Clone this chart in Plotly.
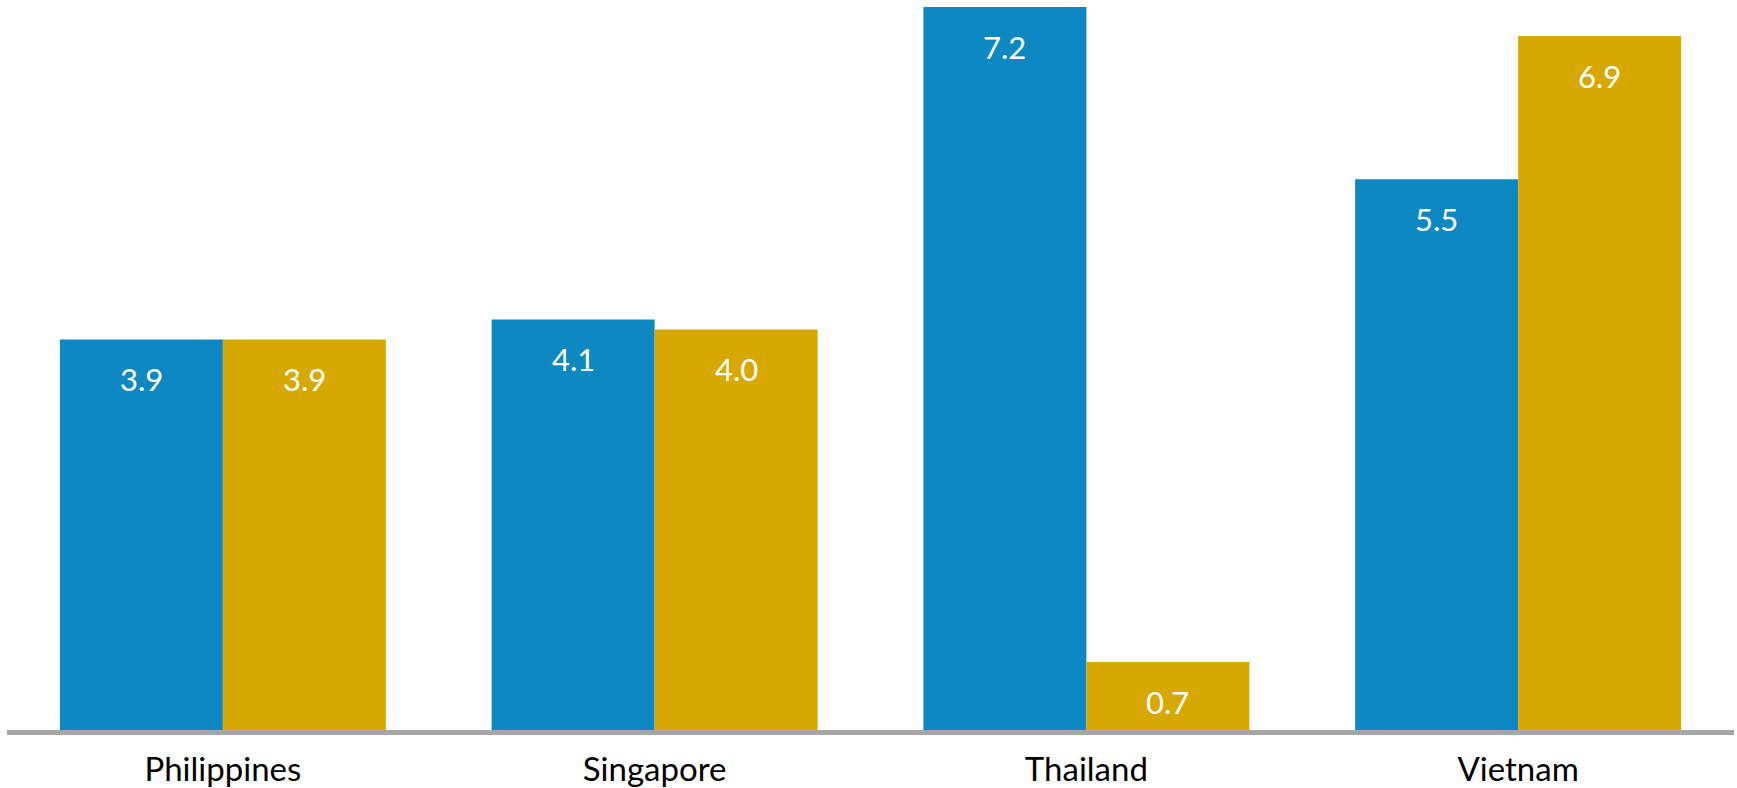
import plotly.graph_objects as go

categories = ["Philippines", "Singapore", "Thailand", "Vietnam"]
series_a = [3.9, 4.1, 7.22, 5.5]
series_b = [3.9, 4.0, 0.68, 6.93]

blue = "#0E88C2"
gold = "#D7A900"
font_family = "Lato, 'Open Sans', sans-serif"

fig = go.Figure()
fig.add_trace(go.Bar(x=categories, y=series_a, marker=dict(color=blue, line=dict(width=0)), name="A"))
fig.add_trace(go.Bar(x=categories, y=series_b, marker=dict(color=gold, line=dict(width=0)), name="B"))

annotations = []
for vals, shift in ((series_a, -81.5), (series_b, 81.5)):
    for c, v in zip(categories, vals):
        annotations.append(dict(
            x=c, y=v, xref="x", yref="y", text=f"{v:.1f}", showarrow=False,
            xshift=shift, yshift=-40, yanchor="middle",
            font=dict(family=font_family, size=31, color="white"),
        ))

fig.update_layout(
    width=1737, height=788,
    margin=dict(l=7, r=3, t=0, b=58),
    barmode="group", bargap=0.245, bargroupgap=0,
    plot_bgcolor="white", paper_bgcolor="white",
    showlegend=False,
    annotations=annotations,
    xaxis=dict(
        showline=True, linecolor="#A6A6A6", linewidth=5,
        ticks="", tickfont=dict(family=font_family, size=33, color="black"),
        ticklabelstandoff=6,
        showgrid=False,
    ),
    yaxis=dict(range=[0, 7.29], visible=False, showgrid=False, zeroline=False),
)

fig.write_html("out.html")
